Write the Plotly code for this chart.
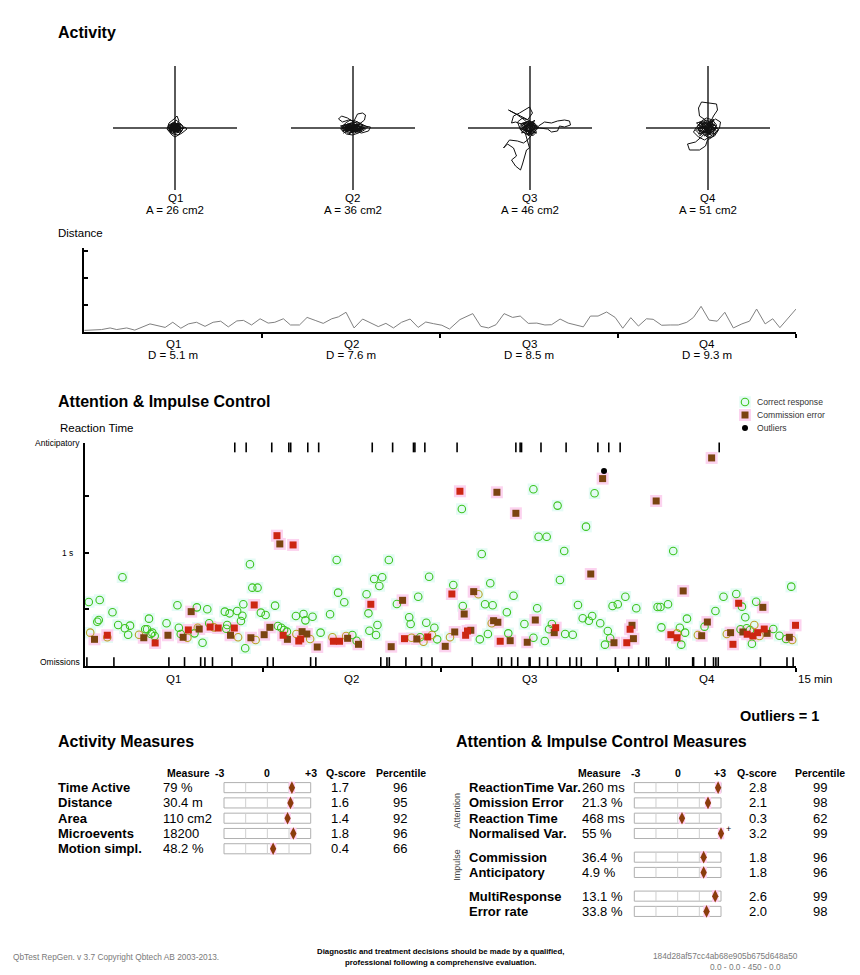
import plotly.graph_objects as go

W, H = 860, 975          # browser window
OFF = 8                  # page body margin
FW, FH = W - OFF, H - OFF
FONT = "Liberation Sans, Arial, Helvetica, sans-serif"

# ---------------- data ----------------
quarters = ["Q1", "Q2", "Q3", "Q4"]
area_cm2 = [26, 36, 46, 51]
distance_m = [5.1, 7.6, 8.5, 9.3]

# head-movement traces per quarter (relative to centre, y up)
q1_x = [0,3,-2,-5,-3,2,6,4,-1,-6,-7,-2,3,7,8,3,-2,-4,0,5,2,-3,-6,-4,1,5,9,6,1,-3,-1,2,0,-4,-2,3,1,-1,4,10,12,7,0,-3,-8,-6,-1,2,4,1,-2,-5,-1,3,6,2,-2,0,
        -4,5,-6,3,-2,6,-5,1,4,-3,7,-6,2,-1,5,-4,3,-7,0,6,-2,4,-5,2,-3,5,-1,3,-6,1,6,-4,0,4,-2,5,-6,2,-3,0]
q1_y = [0,2,4,1,-3,-4,-1,3,6,3,-2,-6,-7,-3,2,5,2,-1,-3,0,3,5,0,-5,-5,-4,0,4,8,3,-1,-2,2,2,-3,-1,1,-4,-2,1,-1,-5,-9,-7,-1,5,9,12,7,3,-2,-4,1,-5,2,4,0,0,
        2,-3,-1,4,-5,1,3,-4,5,-2,0,-3,4,-5,2,1,-4,2,5,-1,-3,3,-5,1,4,-2,-4,2,0,5,-3,-1,3,-5,1,4,-2,-3,2,0]
q2_x = [0,4,-3,-8,-5,2,8,10,5,-2,-9,-12,-6,0,6,12,15,9,3,-4,-10,-14,-11,-5,1,3,5,10,13,12,7,1,-3,-7,-4,2,9,16,18,12,5,-1,-6,-10,-7,-2,4,8,3,-3,-8,-2,5,11,6,0,2,-3,4,-5,1,6,-2,3,-4,0,
        -8,9,-11,6,-3,12,-9,2,8,-6,13,-10,4,-2,10,-7,5,-12,0,11,-4,7,-9,3,-5,9,-1,6,-11,2]
q2_y = [0,3,4,1,-4,-5,-2,3,6,5,2,-1,-6,-7,-5,-2,1,4,7,8,6,9,12,10,6,10,14,15,13,8,4,2,-1,-3,-6,-3,-5,-3,1,2,4,-1,-4,0,5,8,5,0,-3,-2,1,3,2,-1,-4,0,3,-2,-3,2,5,1,-4,4,0,0,
        2,-3,-1,4,-5,1,3,-4,5,-2,0,-3,4,-5,2,1,-4,2,5,-1,-3,3,-5,1,4,-2,-4,2,0,0]
q3_x = [0,5,-3,-8,-4,3,8,6,0,-6,-10,-7,-1,4,9,15,22,28,35,40,41,35,30,28,22,18,10,4,-2,-8,-14,-18,-16,-10,-4,0,3,-2,-7,-12,-9,-3,2,6,2,-3,-21,-12,-5,0,4,-2,-6,-12,-20,-26,-22,-16,-13,-18,-14,-9,-7,-5,-3,0,-2,-4,-1,3,7,2,-3,-6,-2,1,3,-4,6,-2,-7,1,5,-3,
        -6,7,-9,4,-2,8,-7,1,5,-4,9,-8,3,-1,6,-5,2,-9,0,7]
q3_y = [0,3,5,2,-3,-5,-1,4,7,5,1,-4,-7,-5,2,6,5,7,8,7,3,1,2,-3,-4,-1,0,3,6,4,6,5,12,15,19,21,15,8,10,6,-2,-6,-3,2,6,9,18,13,8,3,-5,-12,-15,-13,-12,-20,-16,-20,-28,-32,-38,-42,-36,-28,-22,-20,-12,-6,-2,-8,-4,2,4,0,-3,0,-2,3,1,-6,0,6,-4,2,
        4,-5,-1,6,-7,2,5,-6,8,-3,0,-5,7,-8,3,1,-6,4,7,0]
q4_x = [0,4,-3,-7,-4,2,7,9,5,-1,-6,-10,-8,-2,-8,-9,-6,2,9,10,6,3,-2,-6,-11,-14,-9,-3,3,8,12,13,8,2,-5,-12,-20,-18,-8,-2,0,5,9,4,-3,-8,-12,-6,0,6,11,7,1,-4,-9,-5,2,6,1,-2,
        -7,8,-10,5,-3,9,-8,2,6,-5,10,-9,3,-1,7,-6,4,-11,0,8,-3,5,-8,2,-4,7,-1,4,-9,0]
q4_y = [0,4,6,2,-3,-6,-2,3,8,10,7,2,-4,8,12,20,26,25,24,18,12,6,3,5,1,-4,-9,-12,-8,-5,0,6,9,4,-8,-14,-16,-22,-22,-18,-12,-9,-3,2,-2,-6,-2,3,7,4,-2,-8,-10,-6,-1,2,-3,1,5,0,
        5,-6,-2,7,-8,2,6,-7,9,-4,0,-6,8,-9,4,1,-7,5,8,-2,-5,4,-8,2,6,-3,-6,3,0,0]

# distance curve (minutes, relative units)
dist_t = [0.01,0.37,0.55,0.69,0.90,1.07,1.39,1.71,1.87,2.04,2.20,2.37,2.55,2.72,2.88,3.04,3.22,3.36,3.53,3.71,
          3.88,4.02,4.20,4.35,4.54,4.70,4.87,5.04,5.22,5.36,5.52,5.69,5.87,6.03,6.20,6.36,6.52,6.69,6.87,7.04,
          7.20,7.36,7.54,7.70,7.92,8.19,8.36,8.52,8.68,8.85,9.03,9.19,9.36,9.54,9.71,9.85,10.03,10.20,10.37,10.52,
          10.67,10.83,11.01,11.19,11.35,11.52,11.68,11.85,11.99,12.17,12.35,12.52,12.70,12.84,13.00,13.17,13.34,13.50,13.68,13.86,
          14.02,14.17,14.35,14.51,14.66,14.84,15.00]
dist_v = [0.06,0.09,0.15,0.09,0.15,0.07,0.30,0.17,0.36,0.14,0.30,0.36,0.21,0.36,0.40,0.19,0.41,0.43,0.26,0.49,
          0.33,0.36,0.49,0.26,0.26,0.54,0.43,0.32,0.49,0.56,0.73,0.15,0.48,0.33,0.20,0.32,0.15,0.36,0.48,0.17,
          0.37,0.31,0.25,0.11,0.46,0.68,0.21,0.15,0.27,0.68,0.54,0.59,0.32,0.33,0.26,0.27,0.48,0.33,0.26,0.19,
          0.59,0.59,0.74,0.54,0.14,0.53,0.22,0.49,0.47,0.25,0.26,0.26,0.36,0.54,0.95,0.44,0.40,0.73,0.15,0.30,
          0.40,0.85,0.30,0.49,0.16,0.52,0.85]

# reaction times (minutes, ms)
correct_t = [0.08,0.31,0.26,0.29,0.79,0.58,0.70,0.84,0.95,0.91,1.27,1.31,1.35,1.39,1.42,1.47,1.72,1.95,1.98,2.02,
             2.31,2.36,2.48,2.58,2.62,2.95,3.05,3.00,2.98,3.21,3.29,3.32,3.34,3.38,3.48,3.53,3.64,3.71,3.81,4.01,
             4.07,4.14,4.20,4.26,4.45,4.61,4.65,4.80,4.97,5.31,6.41,6.10,6.27,6.21,7.26,5.34,5.47,5.94,5.17,5.98,
             6.17,6.00,6.14,5.64,5.73,6.58,7.03,6.84,6.87,7.07,7.20,7.37,7.43,7.77,7.97,8.33,8.50,8.55,8.44,8.60,
             8.93,8.90,9.04,9.27,9.54,9.46,9.70,9.85,9.79,10.02,10.40,10.50,10.63,10.70,10.87,10.13,10.29,11.03,11.08,10.97,
             11.13,11.24,11.40,11.63,12.08,12.14,12.30,12.16,12.55,12.66,12.58,12.70,13.07,13.30,13.47,13.74,13.83,13.86,13.93,13.96,
             14.16,14.07,14.52,14.65,14.79,14.90,14.03,7.95,8.37,9.46,9.97,9.57,9.74,10.11,10.57,10.75,12.41]
correct_rt = [566,584,392,407,785,475,363,334,357,277,325,325,419,283,295,266,378,537,339,283,
              289,519,206,502,378,481,466,363,330,487,398,445,546,157,900,693,693,472,451,534,
              354,339,319,304,443,460,404,436,295,938,938,770,785,708,790,649,564,635,458,466,
              363,312,274,274,224,549,613,431,372,254,383,339,236,717,531,236,283,732,546,537,
              289,475,622,372,511,250,221,372,325,761,540,422,401,443,378,283,277,310,245,189,
              531,546,613,511,522,522,546,342,339,295,189,419,348,487,613,637,325,525,431,334,
              569,197,327,268,239,702,319,1389,991,1564,1419,1144,1144,1018,1233,1528,1018]
correct_late_t = [0.11,1.14,0.47,2.16,2.38,2.72,3.23,3.60,4.46,4.75,5.22,5.51,6.89,7.14,7.32,8.30,7.70,8.58,12.49,12.93,14.12,14.23,14.92,13.54]
correct_late_rt = [295,277,254,250,339,342,254,230,283,239,254,266,250,215,274,635,254,378,289,274,363,266,230,283]
commission_t = [0.20,1.24,1.75,2.07,2.24,2.41,3.07,3.50,3.78,3.90,4.27,4.58,4.68,4.90,5.54,5.77,6.46,6.70,7.00,7.60,
                7.80,8.00,8.14,8.20,8.62,8.71,8.97,9.33,9.50,9.90,10.67,11.16,11.54,11.57,12.62,13.01,13.13,13.62,13.88,14.30,
                14.39,14.86,4.11,8.69,9.09,10.92,13.22,12.05]
commission_rt = [236,250,272,254,481,327,272,250,277,342,236,304,283,168,245,192,171,581,239,174,
                 301,460,316,658,401,387,224,210,407,295,814,206,360,242,664,268,389,295,301,519,
                 289,254,1080,1537,1351,1658,1841,1460]
commission_fast_t = [0.47,1.48,2.18,2.64,2.81,3.15,3.57,4.18,4.51,4.55,5.24,5.37,6.03,6.74,7.23,7.74,8.03,8.07,8.76,9.93,
                     11.43,11.50,12.36,12.49,13.67,13.79,13.97,14.09,14.19,14.33,14.99,4.05,4.39,7.91]
commission_fast_rt = [272,204,319,345,336,336,540,272,221,239,219,219,546,242,257,637,272,310,219,339,
                      206,325,277,250,192,555,281,266,295,327,360,1153,1071,1546]
outlier_t = [10.95]
outlier_rt = [1726]
anticipatory_t = [3.16,3.40,3.94,4.30,4.34,4.70,4.93,6.06,6.49,6.93,6.96,7.17,7.85,9.09,9.18,9.21,9.62,10.15,10.82,11.05,11.29,13.38]
omission_t = [0.04,0.61,1.77,2.10,2.44,2.53,2.69,3.10,3.85,3.97,4.76,4.87,6.24,6.37,6.42,6.77,7.10,7.32,8.17,8.72,
              8.79,9.00,9.13,9.37,9.39,9.59,9.76,9.95,10.23,10.37,10.47,10.80,11.19,11.47,11.68,11.84,11.89,12.26,12.32,12.82,
              12.84,13.08,13.26,13.31,13.36,14.25,14.81,14.94]
outliers_count = 1
legend_labels = ["Correct response", "Commission error", "Outliers"]

act_names = ["Time Active", "Distance", "Area", "Microevents", "Motion simpl."]
act_values = ["79 %", "30.4 m", "110 cm2", "18200", "48.2 %"]
act_q = [1.7, 1.6, 1.4, 1.8, 0.4]
act_pct = [96, 95, 92, 96, 66]

att_names = ["ReactionTime Var.", "Omission Error", "Reaction Time", "Normalised Var.",
             "Commission", "Anticipatory", "MultiResponse", "Error rate"]
att_values = ["260 ms", "21.3 %", "468 ms", "55 %", "36.4 %", "4.9 %", "13.1 %", "33.8 %"]
att_q = [2.8, 2.1, 0.3, 3.2, 1.8, 1.8, 2.6, 2.0]
att_pct = [99, 98, 62, 99, 96, 96, 99, 98]
att_group = [0, 0, 0, 0, 1, 1, 2, 2]
group_labels = ["Attention", "Impulse"]

# ---------------- figure ----------------
fig = go.Figure()
base_ax = dict(showgrid=False, zeroline=False, showticklabels=False, ticks="", showline=False, fixedrange=True)


def fx(px):
    return (px - OFF) / FW


def fy(py):
    return 1 - (py - OFF) / FH


def set_axes(idx, xdom, ydom, xrange, yrange, xextra=None, yextra=None):
    xn = "xaxis" if idx == 1 else f"xaxis{idx}"
    yn = "yaxis" if idx == 1 else f"yaxis{idx}"
    xa = dict(base_ax, domain=[fx(xdom[0]), fx(xdom[1])], range=xrange, anchor="y" if idx == 1 else f"y{idx}")
    ya = dict(base_ax, domain=[fy(ydom[1]), fy(ydom[0])], range=yrange, anchor="x" if idx == 1 else f"x{idx}")
    if xextra:
        xa.update(xextra)
    if yextra:
        ya.update(yextra)
    fig.update_layout(**{xn: xa, yn: ya})


def ref(idx):
    return ("x", "y") if idx == 1 else (f"x{idx}", f"y{idx}")


def text(x, y, s, size=12, bold=False, xanchor="left", color="black", xref="paper", yref="paper", angle=0):
    if xref == "paper":
        x = fx(x - (1.5 if xanchor == "left" else 0))
    if yref == "paper":
        y = fy(y)
    fig.add_annotation(x=x, y=y, xref=xref, yref=yref, text=(f"<b>{s}</b>" if bold else s),
                       showarrow=False, xanchor=xanchor, yanchor="middle", textangle=angle,
                       font=dict(family=FONT, size=size, color=color))


# ---- Activity crosshairs ----
text(57, 32, "Activity", 16, True)
centers = [175, 352.5, 529.5, 707.5]
trajs = [(q1_x, q1_y), (q2_x, q2_y), (q3_x, q3_y), (q4_x, q4_y)]
for i in range(4):
    idx = i + 1
    cx = centers[i]
    zl = dict(zeroline=True, zerolinecolor="#5a5a5a", zerolinewidth=2)
    set_axes(idx, (cx - 62, cx + 62), (66, 190), [-62, 62], [-62, 62], zl, zl)
    xr, yr = ref(idx)
    tx, ty = trajs[i]
    fig.add_trace(go.Scatter(x=tx, y=ty, mode="lines", line=dict(color="#111111", width=1.0),
                             xaxis=xr, yaxis=yr, showlegend=False, hoverinfo="skip"))
    text(cx, 198, quarters[i], 11.5, xanchor="center")
    text(cx, 209.5, f"A = {area_cm2[i]} cm2", 11.5, xanchor="center")

# ---- Distance ----
text(57, 233, "Distance", 11.5)
set_axes(5, (84, 796), (248, 332), [0, 15], [0, 3.11],
         dict(showline=True, linecolor="black", linewidth=1.5, ticks="outside", ticklen=4, tickwidth=1.5,
              tickcolor="black", tickvals=[3.75, 7.5, 11.25, 15]),
         dict(showline=True, linecolor="black", linewidth=1.5, ticks="inside", ticklen=4, tickwidth=1.5,
              tickcolor="black", tickvals=[1, 2, 3]))
fig.add_trace(go.Scatter(x=dist_t, y=dist_v, mode="lines", line=dict(color="#808080", width=1),
                         xaxis="x5", yaxis="y5", showlegend=False, hoverinfo="skip", cliponaxis=False))
qmid = [1.875, 5.625, 9.375, 13.125]
for i in range(4):
    text(qmid[i], 343.5, quarters[i], 11.5, xanchor="center", xref="x5")
    text(qmid[i], 354.5, f"D = {distance_m[i]} m", 11.5, xanchor="center", xref="x5")

# ---- Attention & Impulse Control scatter ----
text(57, 401, "Attention & Impulse Control", 16, True)
text(59, 428, "Reaction Time", 11.5)
set_axes(6, (85, 796), (443, 666), [0, 15], [0, 1973],
         dict(showline=True, linecolor="black", linewidth=1.5, ticks="outside", ticklen=4, tickwidth=1.5,
              tickcolor="black", tickvals=[3.75, 7.5, 11.25, 15]),
         dict(showline=True, linecolor="black", linewidth=1.5, ticks="inside", ticklen=4, tickwidth=1.5,
              tickcolor="black", tickvals=[500, 1000, 1500]))
S = dict(xaxis="x6", yaxis="y6", showlegend=False, hoverinfo="skip", cliponaxis=False, mode="markers")
all_ct = correct_t + correct_late_t
all_cr = correct_rt + correct_late_rt
all_et = commission_t + commission_fast_t
all_er = commission_rt + commission_fast_rt
fig.add_trace(go.Scatter(x=all_ct, y=all_cr, marker=dict(symbol="square", size=11.5, color="#e4fbf5"), **S))
fig.add_trace(go.Scatter(x=all_et, y=all_er, marker=dict(symbol="square", size=12, color="#fcd3ef"), **S))
fig.add_trace(go.Scatter(x=anticipatory_t, y=[1934] * len(anticipatory_t),
                         marker=dict(symbol="line-ns", size=7, line=dict(width=1.6, color="black")), **S))
fig.add_trace(go.Scatter(x=omission_t, y=[35] * len(omission_t),
                         marker=dict(symbol="line-ns", size=7, line=dict(width=1.6, color="black")), **S))
fig.add_trace(go.Scatter(x=correct_t, y=correct_rt,
                         marker=dict(symbol="circle-open", size=7.5, color="#3cc41e", line=dict(width=1.1)), **S))
fig.add_trace(go.Scatter(x=correct_late_t, y=correct_late_rt,
                         marker=dict(symbol="circle-open", size=7.5, color="#b7a226", line=dict(width=1.1)), **S))
fig.add_trace(go.Scatter(x=commission_t, y=commission_rt,
                         marker=dict(symbol="square", size=7, color="#7a4410"), **S))
fig.add_trace(go.Scatter(x=commission_fast_t, y=commission_fast_rt,
                         marker=dict(symbol="square", size=7, color="#cc2612"), **S))
fig.add_trace(go.Scatter(x=outlier_t, y=outlier_rt, marker=dict(symbol="circle", size=6, color="black"), **S))

text(82, 443, "Anticipatory", 8.5, xanchor="right")
text(75, 553, "1 s", 8.5, xanchor="right")
text(82, 662, "Omissions", 8.5, xanchor="right")
for i in range(4):
    text(qmid[i], 678.5, quarters[i], 11.5, xanchor="center", xref="x6")
text(797, 678.5, "15 min", 11.5)
text(821, 716, f"Outliers = {outliers_count}", 14.5, True, xanchor="right")

# legend
set_axes(7, (738, 858), (395.5, 434.5), [0, 120], [0, 3])
L = dict(xaxis="x7", yaxis="y7", showlegend=False, hoverinfo="skip", cliponaxis=False, mode="markers")
fig.add_trace(go.Scatter(x=[7], y=[2.5], marker=dict(symbol="square", size=11.5, color="#e4fbf5"), **L))
fig.add_trace(go.Scatter(x=[7], y=[1.5], marker=dict(symbol="square", size=12, color="#fcd3ef"), **L))
fig.add_trace(go.Scatter(x=[7], y=[2.5], marker=dict(symbol="circle-open", size=7.5, color="#3cc41e", line=dict(width=1.1)), **L))
fig.add_trace(go.Scatter(x=[7], y=[1.5], marker=dict(symbol="square", size=7, color="#7a4410"), **L))
fig.add_trace(go.Scatter(x=[7], y=[0.5], marker=dict(symbol="circle", size=6, color="black"), **L))
for k, lab in enumerate(legend_labels):
    fig.add_annotation(x=17, y=2.5 - k, xref="x7", yref="y7", text=lab, showarrow=False, xanchor="left",
                       yanchor="middle", font=dict(family=FONT, size=8.6, color="#333333"))


# ---- Measures tables ----
def gauge_table(idx, center_px, n_rows_span, rows, names, values, qs, pcts, px_name, px_val, px_q, px_pct):
    unit = 14.45
    set_axes(idx, (center_px - 3.4 * unit, center_px + 3.4 * unit), (780, 780 + 15.28 * (n_rows_span + 1)),
             [-3.4, 3.4], [n_rows_span + 0.5, -0.5])
    xr, yr = ref(idx)
    for r, q in zip(rows, qs):
        fig.add_shape(type="rect", x0=-3, x1=3, y0=r - 0.33, y1=r + 0.33, xref=xr, yref=yr,
                      line=dict(color="#b0b0b0", width=1), fillcolor="white", layer="below")
        for d in (-1.5, 0, 1.5):
            fig.add_shape(type="line", x0=d, x1=d, y0=r - 0.33, y1=r + 0.33, xref=xr, yref=yr,
                          line=dict(color="#cfcfcf", width=1), layer="below")
        qc = min(q, 3)
        fig.add_shape(type="rect", x0=qc - 0.22, x1=qc + 0.22, y0=r - 0.38, y1=r + 0.38, xref=xr, yref=yr,
                      line=dict(width=0), fillcolor="#ffcdf0", layer="below")
        if q > 3:
            text(center_px + 3.55 * unit, r - 0.3, "+", 9, xanchor="center", yref=yr)
    fig.add_trace(go.Scatter(x=[min(q, 3) for q in qs], y=rows, mode="markers", xaxis=xr, yaxis=yr,
                             marker=dict(symbol="diamond-tall", size=9, color="#8b3c0c"),
                             showlegend=False, hoverinfo="skip", cliponaxis=False))
    for r, nm, v, q, p in zip(rows, names, values, qs, pcts):
        text(px_name, r, nm, 13, True, yref=yr)
        text(px_val, r, v, 13, yref=yr)
        text(px_q, r, f"{q:.1f}", 13, xanchor="center", yref=yr)
        text(px_pct, r, str(p), 13, xanchor="center", yref=yr)


text(57, 741, "Activity Measures", 16, True)
act_rows = list(range(len(act_names)))
gauge_table(8, 267.35, 4, act_rows, act_names, act_values, act_q, act_pct, 57, 162, 340, 400)
text(166.5, 772.5, "Measure", 10.5, True)
text(219, 772.5, "-3", 10.5, True, xanchor="center")
text(267.3, 772.5, "0", 10.5, True, xanchor="center")
text(311, 772.5, "+3", 10.5, True, xanchor="center")
text(346, 772.5, "Q-score", 10.5, True, xanchor="center")
text(375, 772.5, "Percentile", 10.5, True)

text(455, 741, "Attention & Impulse Control Measures", 16, True)
att_rows = [i + 0.55 * g for i, g in enumerate(att_group)]
gauge_table(9, 677.65, 8.1, att_rows, att_names, att_values, att_q, att_pct, 468, 581, 758, 820)
text(577, 772.5, "Measure", 10.5, True)
text(635.7, 772.5, "-3", 10.5, True, xanchor="center")
text(677.6, 772.5, "0", 10.5, True, xanchor="center")
text(719.7, 772.5, "+3", 10.5, True, xanchor="center")
text(757, 772.5, "Q-score", 10.5, True, xanchor="center")
text(820, 772.5, "Percentile", 10.5, True, xanchor="center")
for g, lab in enumerate(group_labels):
    rs = [r for r, gg in zip(att_rows, att_group) if gg == g]
    text(457, (min(rs) + max(rs)) / 2, lab, 9, xanchor="center", yref="y9", angle=-90, color="#444444")

# ---- footer ----
text(12, 957, "QbTest RepGen. v 3.7 Copyright Qbtech AB 2003-2013.", 8.3, color="#7a7a7a")
text(441, 951, "Diagnostic and treatment decisions should be made by a qualified,", 7.8, True, xanchor="center")
text(441, 962, "professional following a comprehensive evaluation.", 7.8, True, xanchor="center")
text(725, 956, "184d28af57cc4ab68e905b675d648a50", 8.3, xanchor="center", color="#7a7a7a")
text(745, 967, "0.0 - 0.0 - 450 - 0.0", 8.3, xanchor="center", color="#7a7a7a")

fig.update_layout(width=FW, height=FH, margin=dict(l=0, r=0, t=0, b=0), paper_bgcolor="white",
                  plot_bgcolor="rgba(0,0,0,0)", showlegend=False, hovermode=False,
                  font=dict(family=FONT, color="black"))
fig.write_html("out.html")
